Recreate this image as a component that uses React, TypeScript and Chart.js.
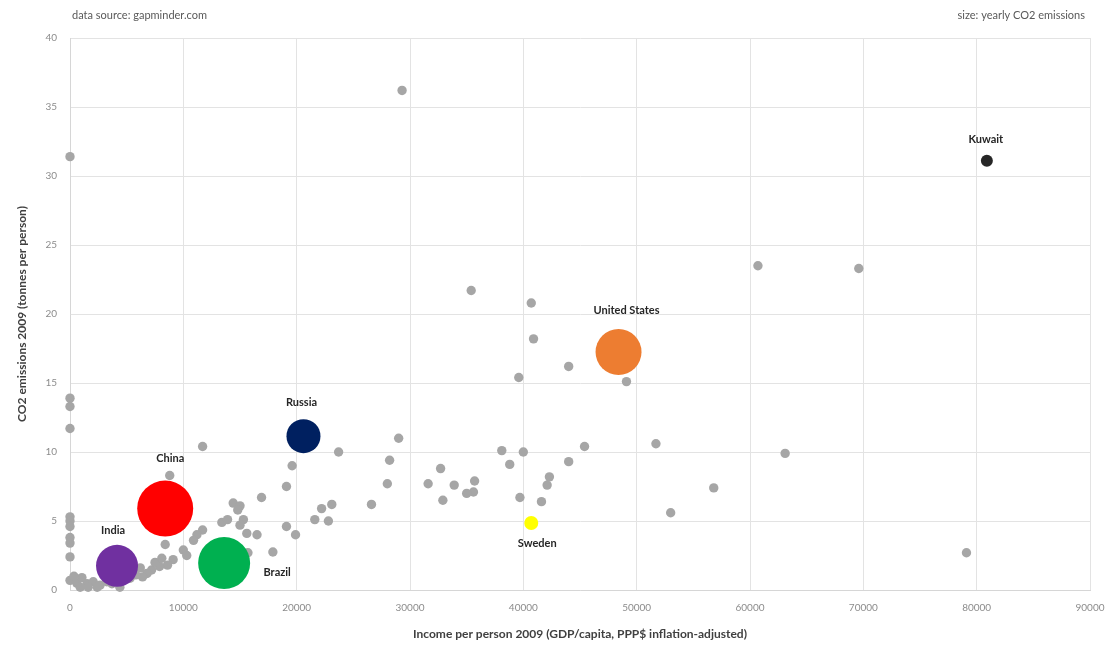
import React, { useEffect, useRef } from "react";
import { Chart, registerables } from "chart.js";

Chart.register(...registerables);

// Highlighted countries
const countryNames = ["China", "India", "Brazil", "Russia", "United States", "Kuwait", "Sweden"];
const countryIncome = [8400, 4150, 13600, 20600, 48400, 80900, 40700];
const countryCO2 = [5.9, 1.75, 1.95, 11.15, 17.25, 31.1, 4.85];
// relative yearly CO2 emissions (bubble area units)
const countryEmissionSize = [784, 441, 676, 289, 529, 36, 49];
const countryColors = ["#ff0000", "#7030a0", "#00b050", "#002060", "#ed7d31", "#262626", "#ffff00"];

// Other countries
const otherIncome = [
  29300, 0, 35400, 40700, 40900, 39600, 44000, 49100, 60700, 69600,
  0, 0, 0, 11700, 29000, 23700, 38100, 40000, 38800, 45400,
  44000, 51700, 63100, 32700, 28200, 28000, 31600, 33900, 35700, 35600,
  35000, 32900, 42300, 42100, 39700, 41600, 56800, 53000, 79100, 26600,
  23100, 22200, 21600, 22800, 19600, 19100, 16900, 8800, 14400, 15000,
  14800, 13400, 13900, 15300, 15000, 15600, 16500, 17900, 19100, 19900,
  11700, 11200, 10900, 10000, 10300, 9100, 8600, 7900, 7200, 6800,
  6400, 8400, 15700, 0, 0, 0, 0, 0, 0, 0,
  600, 1050, 1500, 2050, 2650, 3250, 900, 1600, 2400, 3700,
  5300, 5800, 350, 4400, 6200, 7500, 8100,
];
const otherCO2 = [
  36.2, 31.4, 21.7, 20.8, 18.2, 15.4, 16.2, 15.1, 23.5, 23.3,
  13.9, 13.3, 11.7, 10.4, 11.0, 10.0, 10.1, 10.0, 9.1, 10.4,
  9.3, 10.6, 9.9, 8.8, 9.4, 7.7, 7.7, 7.6, 7.9, 7.1,
  7.0, 6.5, 8.2, 7.6, 6.7, 6.4, 7.4, 5.6, 2.7, 6.2,
  6.2, 5.9, 5.1, 5.0, 9.0, 7.5, 6.7, 8.3, 6.3, 6.1,
  5.8, 4.9, 5.1, 5.1, 4.7, 4.1, 4.0, 2.75, 4.6, 4.0,
  4.35, 4.0, 3.6, 2.9, 2.5, 2.2, 1.8, 1.7, 1.45, 1.2,
  0.95, 3.3, 2.7, 5.3, 5.0, 4.6, 3.8, 3.4, 2.4, 0.7,
  0.5, 0.9, 0.45, 0.6, 0.35, 0.6, 0.2, 0.2, 0.2, 0.45,
  0.85, 1.1, 1.0, 0.2, 1.6, 2.0, 2.3,
];
const otherEmissionSize = 22;

const xMin = 0;
const xMax = 90000;
const xStep = 10000;
const yMin = 0;
const yMax = 40;
const yStep = 5;

const headerLeft = "data source: gapminder.com";
const headerRight = "size: yearly CO2 emissions";
const xTitle = "Income per person 2009 (GDP/capita, PPP$ inflation-adjusted)";
const yTitle = "CO2 emissions 2009 (tonnes per person)";

const FONT = "Lato, 'Open Sans', 'DejaVu Sans', sans-serif";

// label offsets (pixels) relative to bubble centre
const labelOffsets: Record<string, [number, number]> = {
  China: [5, -50],
  India: [-4, -35],
  Brazil: [53, 9],
  Russia: [-2, -34],
  "United States": [8, -41],
  Kuwait: [-1, -21],
  Sweden: [6, 20],
};

const annotatePlugin = {
  id: "annotate",
  afterDatasetsDraw(chart: any) {
    const ctx = chart.ctx;
    const xs = chart.scales.x;
    const ys = chart.scales.y;
    ctx.save();
    ctx.font = `bold 11px ${FONT}`;
    ctx.fillStyle = "#262626";
    ctx.textAlign = "center";
    ctx.textBaseline = "middle";
    countryNames.forEach((name, i) => {
      const px = xs.getPixelForValue(countryIncome[i]);
      const py = ys.getPixelForValue(countryCO2[i]);
      const off = labelOffsets[name] || [0, 0];
      ctx.fillText(name, px + off[0], py + off[1]);
    });
    ctx.restore();
  },
  afterDraw(chart: any) {
    const ctx = chart.ctx;
    ctx.save();
    ctx.font = `11px ${FONT}`;
    ctx.fillStyle = "#595959";
    ctx.textBaseline = "middle";
    ctx.textAlign = "left";
    ctx.fillText(headerLeft, 72, 15);
    ctx.textAlign = "right";
    ctx.fillText(headerRight, 1085, 15);
    ctx.restore();
  },
};

export default function App() {
  const canvasRef = useRef<HTMLCanvasElement | null>(null);

  useEffect(() => {
    if (!canvasRef.current) return;
    const highlightData = countryNames.map((_, i) => ({
      x: countryIncome[i],
      y: countryCO2[i],
      r: Math.sqrt(countryEmissionSize[i]),
    }));
    const otherData = otherIncome.map((x, i) => ({
      x,
      y: otherCO2[i],
      r: Math.sqrt(otherEmissionSize),
    }));
    const chart = new Chart(canvasRef.current, {
      type: "bubble",
      data: {
        datasets: [
          {
            label: "Highlighted",
            data: highlightData,
            backgroundColor: countryColors,
            borderColor: countryColors,
            borderWidth: 0,
            clip: false as any,
          },
          {
            label: "Other countries",
            data: otherData,
            backgroundColor: "#a6a6a6",
            borderWidth: 0,
            clip: false as any,
          },
        ],
      },
      options: {
        animation: false,
        responsive: false,
        maintainAspectRatio: false,
        layout: { autoPadding: false, padding: { top: 38, right: 15, left: 0, bottom: 0 } },
        plugins: {
          legend: { display: false },
          tooltip: { enabled: false },
          title: { display: false },
        },
        scales: {
          x: {
            type: "linear",
            min: xMin,
            max: xMax,
            afterFit: (scale: any) => {
              scale.height = 56;
              scale.paddingLeft = 0;
              scale.paddingRight = 0;
            },
            ticks: {
              stepSize: xStep,
              padding: 12,
              color: "#8c8c8c",
              font: { family: FONT, size: 10 },
              callback: (v: any) => String(v),
              maxRotation: 0,
            },
            grid: { color: "#e3e3e3", drawTicks: false, lineWidth: 1 },
            border: { color: "#d6d6d6" },
            title: {
              display: true,
              text: xTitle,
              color: "#404040",
              font: { family: FONT, size: 12, weight: "bold" },
              padding: { top: 4, bottom: 5 },
            },
          },
          y: {
            type: "linear",
            min: yMin,
            max: yMax,
            afterFit: (scale: any) => {
              scale.width = 70;
              scale.paddingTop = 0;
              scale.paddingBottom = 0;
            },
            ticks: {
              stepSize: yStep,
              padding: 13,
              color: "#8c8c8c",
              font: { family: FONT, size: 10 },
            },
            grid: { color: "#e3e3e3", drawTicks: false, lineWidth: 1 },
            border: { color: "#d6d6d6" },
            title: {
              display: true,
              text: yTitle,
              color: "#404040",
              font: { family: FONT, size: 12, weight: "bold" },
              padding: { top: 15, bottom: 4 },
            },
          },
        },
      },
      plugins: [annotatePlugin],
    });
    return () => chart.destroy();
  }, []);

  return (
    <div style={{ position: "fixed", left: 0, top: 0, width: 1105, height: 646, background: "#fff" }}>
      <canvas ref={canvasRef} width={1105} height={646} style={{ display: "block" }} />
    </div>
  );
}
